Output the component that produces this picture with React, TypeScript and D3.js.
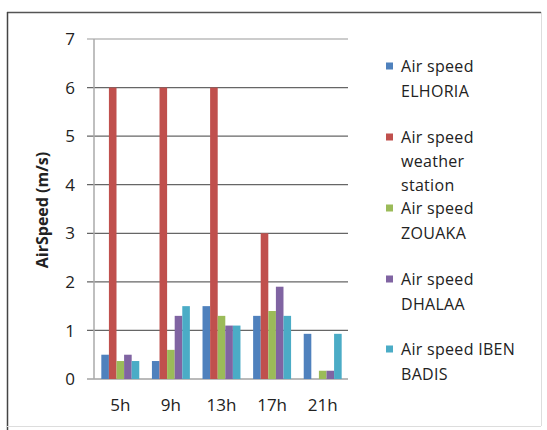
import React from "react";
import * as d3 from "d3";

const categories = ["5h", "9h", "13h", "17h", "21h"];
const seriesNames = [
  ["Air speed", "ELHORIA"],
  ["Air speed", "weather", "station"],
  ["Air speed", "ZOUAKA"],
  ["Air speed", "DHALAA"],
  ["Air speed IBEN", "BADIS"],
];
const elhoria = [0.5, 0.37, 1.5, 1.3, 0.93];
const weatherStation = [6, 6, 6, 3, 0];
const zouaka = [0.37, 0.6, 1.3, 1.4, 0.17];
const dhalaa = [0.5, 1.3, 1.1, 1.9, 0.17];
const ibenBadis = [0.37, 1.5, 1.1, 1.3, 0.93];
const yTicks = [0, 1, 2, 3, 4, 5, 6, 7];
const colors = ["#4F81BD", "#C0504D", "#9BBB59", "#8064A2", "#4BACC6"];

const series = [elhoria, weatherStation, zouaka, dhalaa, ibenBadis];

const W = 547;
const H = 430;
const FONT = "'Open Sans', sans-serif";

export default function App() {
  const x = d3
    .scaleBand<string>()
    .domain(categories)
    .range([95, 348])
    .paddingInner(0.25)
    .paddingOuter(0.125);
  const step = x.step();
  const xOuter = d3.scaleBand<string>().domain(categories).range([95, 348]);
  const inner = d3
    .scaleBand<number>()
    .domain(d3.range(series.length))
    .range([0, x.bandwidth()]);
  const y = d3.scaleLinear().domain([0, 7]).range([379, 39]);

  const legendY = [66, 137, 208, 279, 349];
  const lineH = [25, 24, 25, 25, 25];

  return (
    <svg
      width={W}
      height={H}
      style={{ position: "absolute", left: 0, top: 0, background: "#fff" }}
      fontFamily={FONT}
    >
      <rect x={0} y={0} width={W} height={H} fill="#fff" />
      {/* outer frame */}
      <line x1={7} x2={541} y1={12.5} y2={12.5} stroke="#555" strokeWidth={1.5} />
      <line x1={7.5} x2={7.5} y1={12} y2={430} stroke="#444" strokeWidth={1.5} />
      <line x1={541.5} x2={541.5} y1={12} y2={426} stroke="#ddd" strokeWidth={1} />
      <line x1={7} x2={541} y1={426.5} y2={426.5} stroke="#ddd" strokeWidth={1} />

      {/* gridlines */}
      {yTicks.map((t) => (
        <g key={t}>
          <line
            x1={87}
            x2={348}
            y1={y(t)}
            y2={y(t)}
            stroke={t === 7 ? "#999" : t === 0 ? "#777" : "#666"}
            strokeWidth={1.2}
          />
          <text
            x={75}
            y={y(t)}
            dy="0.36em"
            textAnchor="end"
            fontSize={17}
            fill="#222"
          >
            {t}
          </text>
        </g>
      ))}
      <line x1={94} x2={94} y1={y(7)} y2={y(0)} stroke="#aaa" strokeWidth={1.5} />

      {/* bars */}
      {categories.map((c, i) => (
        <g key={c} transform={`translate(${x(c)},0)`}>
          {series.map((s, k) => (
            <rect
              key={k}
              x={inner(k)}
              y={y(s[i])}
              width={inner.bandwidth()}
              height={y(0) - y(s[i])}
              fill={colors[k]}
            />
          ))}
        </g>
      ))}

      {/* x labels */}
      {categories.map((c) => (
        <text
          key={c}
          x={(xOuter(c) ?? 0) + step / 2}
          y={405}
          dy="0.36em"
          textAnchor="middle"
          fontSize={17}
          fill="#222"
        >
          {c}
        </text>
      ))}

      {/* y title */}
      <text
        transform={`translate(42,210) rotate(-90)`}
        textAnchor="middle"
        dy="0.36em"
        fontSize={16}
        fontWeight="bold"
        fill="#222"
      >
        AirSpeed (m/s)
      </text>

      {/* legend */}
      {seriesNames.map((lines, k) => (
        <g key={k}>
          <rect x={386} y={legendY[k] - 3.5} width={7} height={7} fill={colors[k]} />
          {lines.map((ln, j) => (
            <text
              key={j}
              x={401}
              y={legendY[k] + j * lineH[k]}
              dy="0.36em"
              fontSize={16}
              letterSpacing={0.3}
              fill="#222"
            >
              {ln}
            </text>
          ))}
        </g>
      ))}
    </svg>
  );
}
